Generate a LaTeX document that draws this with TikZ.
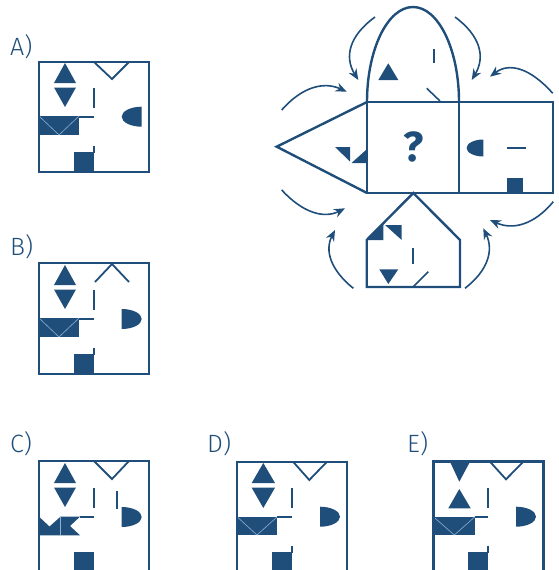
\documentclass[tikz,border=0pt]{standalone}
\usepackage{fontspec}
\setmainfont{Fira Sans}
\newfontfamily\lightf{Fira Sans Light}
\usetikzlibrary{arrows.meta,calc}
\definecolor{db}{HTML}{1F4E7A}
\definecolor{thinl}{HTML}{8DB0D4}
% half ellipse, flat side on the right at x=#1
\newcommand{\halfR}[4]{\fill[db] (#1,{#2-#4}) .. controls ({#1-0.5523*#3},{#2-#4}) and ({#1-#3},{#2-0.5523*#4}) .. ({#1-#3},#2) .. controls ({#1-#3},{#2+0.5523*#4}) and ({#1-0.5523*#3},{#2+#4}) .. (#1,{#2+#4}) -- cycle;}
% half ellipse, flat side on the left at x=#1
\newcommand{\halfL}[4]{\fill[db] (#1,{#2-#4}) .. controls ({#1+0.5523*#3},{#2-#4}) and ({#1+#3},{#2-0.5523*#4}) .. ({#1+#3},#2) .. controls ({#1+#3},{#2+0.5523*#4}) and ({#1+0.5523*#3},{#2+#4}) .. (#1,{#2+#4}) -- cycle;}
\newcommand{\qarrow}[3]{\draw[arr] (#1) .. controls ($(#1)!0.6667!(#2)$) and ($(#3)!0.6667!(#2)$) .. (#3);}
\begin{document}
\begin{tikzpicture}[x=1pt,y=-1pt,
  frame/.style={draw=db, line width=2.6pt},
  netline/.style={draw=db, line width=2.4pt, line join=miter},
  inl/.style={draw=db, line width=2pt},
  vline/.style={draw=db, line width=1.8pt},
  thinw/.style={draw=thinl, line width=0.6pt},
  arr/.style={draw=db, line width=1.6pt, -{Stealth[length=11pt,width=9pt]}},
  lab/.style={text=db, font=\lightf\fontsize{25}{25}\selectfont, anchor=base west, inner sep=0pt}]
\useasboundingbox (0,0) rectangle (558,570);
\clip (0,0) rectangle (558,570);

% labels
\node[lab] (la) at (10,55) {A)};
\node[lab] (lb) at (10,255) {B)};
\node[lab] (lc) at (10,452) {C)};
\node[lab] (ld) at (207,452) {D)};
\node[lab] (le) at (407,452) {E)};

% ---------- A ----------
\begin{scope}[shift={(39,62)}]
\fill[db] (26,1) -- (15,21) -- (37,21) -- cycle;
\fill[db] (15,25.5) -- (37,25.5) -- (26,45) -- cycle;
\draw[vline] (55,0) -- (73,17) -- (90,0);
\draw[inl] (55,26) -- (55,46);
\fill[db] (0,54) rectangle (40,73);
\draw[thinw] (0,54) -- (20,73) -- (40,54);
\draw[inl] (40,54.8) -- (55,54.8);
\halfR{102.7}{54.7}{20}{10}
\fill[db] (35,90) rectangle (55,110);
\draw[inl] (55,84) -- (55,91);
\draw[frame] (0,0) rectangle (110,110);
\end{scope}

% ---------- B ----------
\begin{scope}[shift={(39,263)}]
\fill[db] (26,2) -- (15,22) -- (37,22) -- cycle;
\fill[db] (15,26.5) -- (37,26.5) -- (26,46) -- cycle;
\draw[vline] (56,19) -- (73,1) -- (90,19);
\draw[inl] (55,27) -- (55,47);
\fill[db] (0,55) rectangle (40,74);
\draw[thinw] (0,55) -- (20,74) -- (40,55);
\draw[inl] (40,55.8) -- (55,55.8);
\halfL{82.7}{56}{20}{10}
\fill[db] (35,91) rectangle (55,111);
\draw[inl] (55,85) -- (55,92);
\draw[frame] (0,0) rectangle (110,111);
\end{scope}

% ---------- C ----------
\begin{scope}[shift={(39,461)}]
\fill[db] (26,2) -- (15,22) -- (37,22) -- cycle;
\fill[db] (15,26.5) -- (37,26.5) -- (26,46) -- cycle;
\draw[vline] (55,0) -- (73,18) -- (90,0);
\draw[inl] (55,27) -- (55,47);
\draw[inl] (78.3,30) -- (78.3,48);
\fill[db] (0,55.7) -- (10.5,65.5) -- (21.5,55.7) -- (41,55.7) -- (31,65) -- (41,74.3) -- (0,74.3) -- cycle;
\draw[thinw] (21.5,55.7) -- (21.5,74.3);
\draw[inl] (41,56.4) -- (55,56.4);
\halfL{82.7}{56}{20}{10}
\fill[db] (35,90.7) rectangle (55,112);
\draw[frame] (0,0) rectangle (110,112);
\end{scope}

% ---------- D ----------
\begin{scope}[shift={(237,462)}]
\fill[db] (26.3,1) -- (14.7,21) -- (38,21) -- cycle;
\fill[db] (14.7,25.7) -- (38,25.7) -- (26.3,46) -- cycle;
\draw[vline] (56.3,0) -- (72.3,18) -- (89.7,0);
\draw[inl] (54.7,26) -- (54.7,46);
\fill[db] (0,54.7) rectangle (40.3,73);
\draw[thinw] (0,54.7) -- (20,73) -- (40.3,54.7);
\draw[inl] (40.3,55.4) -- (54.7,55.4);
\halfL{83}{54.7}{20}{10}
\fill[db] (35.3,89.7) rectangle (54.7,112);
\draw[inl] (54.7,84) -- (54.7,90.5);
\draw[frame] (0,0) rectangle (110,112);
\end{scope}

% ---------- E ----------
\begin{scope}[shift={(433.3,461.7)}]
\fill[db] (16.7,0) -- (36.7,0) -- (26,20) -- cycle;
\fill[db] (26,27.3) -- (15,46.6) -- (37.4,46.6) -- cycle;
\draw[vline] (56.7,0) -- (72.7,17.6) -- (90,0);
\draw[inl] (54.4,26.3) -- (54.4,46.3);
\fill[db] (0,55) rectangle (41.7,73.3);
\draw[thinw] (0,55) -- (21,73.3) -- (41.7,55);
\draw[inl] (41.7,55.7) -- (54.4,55.7);
\halfL{82.7}{55}{20}{10}
\fill[db] (35,90) rectangle (55,112);
\draw[inl] (55,84) -- (55,91);
\draw[frame] (0,0) rectangle (110,112);
\end{scope}

% ---------- net ----------
% arch contents
\fill[db] (388.3,63.3) -- (378.3,80) -- (398.3,80) -- cycle;
\draw[inl] (434.3,49) -- (434.3,63.3);
\draw[db,line width=1.6pt] (426.7,88.3) -- (440,101);
% left triangle contents
\fill[db] (335,147) -- (350,147) -- (350,161.5) -- cycle;
\fill[db] (351.5,163) -- (366,150) -- (366,163) -- cycle;
% right square contents
\halfR{483.3}{148}{16.7}{8.5}
\draw[inl] (507.3,147.5) -- (526,147.5);
\fill[db] (507.3,178) rectangle (523.3,193);
% house contents
\fill[db] (367,240) -- (383.3,223.5) -- (383.3,240) -- cycle;
\fill[db] (385,225) -- (401.7,225) -- (401.7,240) -- cycle;
\draw[inl] (412.7,248.3) -- (412.7,264);
\fill[db] (379.3,269.3) -- (398.3,269.3) -- (388.3,284) -- cycle;
\draw[db,line width=1.6pt] (413.3,286.7) -- (428.3,271.7);
% outlines
\draw[netline] (367,102) rectangle (459,193);
\draw[netline] (459,102) rectangle (553,193);
\draw[netline] (367,102) .. controls (367,49.5) and (387.6,7) .. (413,7) .. controls (438.4,7) and (459,49.5) .. (459,102);
\draw[netline] (367,102) -- (276.7,146.7) -- (367,193);
\draw[netline] (413.3,193) -- (460,240) -- (460,287) -- (366.7,287) -- (366.7,240) -- cycle;
\node[text=db, font=\fontsize{42}{42}\selectfont\bfseries, anchor=base, inner sep=0pt] (q) at (413.3,161.7) {?};

% arrows
\coordinate (s1) at (375,17);    \coordinate (c1) at (336.7,44.9);  \coordinate (e1) at (358.3,80);
\coordinate (s2) at (455,17);    \coordinate (c2) at (492.65,44.9); \coordinate (e2) at (471.7,80);
\coordinate (s3) at (552.7,93.3);\coordinate (c3) at (518.65,55);   \coordinate (e3) at (490,76.7);
\coordinate (s4) at (281.7,110); \coordinate (c4) at (311.8,75.75); \coordinate (e4) at (346.7,91.7);
\coordinate (s5) at (281.7,190); \coordinate (c5) at (313.25,224.25); \coordinate (e5) at (345,208.3);
\coordinate (s6) at (353.3,288.3); \coordinate (c6) at (319.25,260.85); \coordinate (e6) at (335,230);
\coordinate (s7) at (465,288.3); \coordinate (c7) at (499.25,261.7); \coordinate (e7) at (483.3,228.3);
\coordinate (s8) at (553.3,201.7); \coordinate (c8) at (524.95,235.75); \coordinate (e8) at (490,220);
\qarrow{s1}{c1}{e1}
\qarrow{s2}{c2}{e2}
\qarrow{s3}{c3}{e3}
\qarrow{s4}{c4}{e4}
\qarrow{s5}{c5}{e5}
\qarrow{s6}{c6}{e6}
\qarrow{s7}{c7}{e7}
\qarrow{s8}{c8}{e8}
\end{tikzpicture}
\end{document}
